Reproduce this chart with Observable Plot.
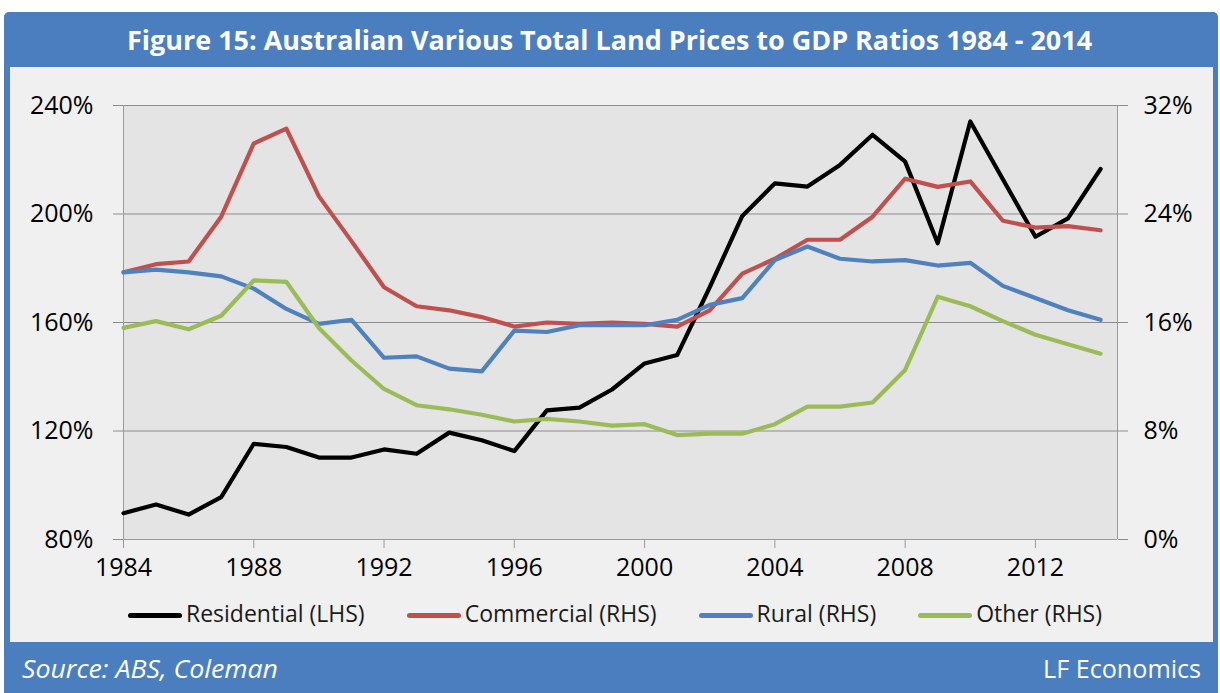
<!DOCTYPE html>
<html><head><meta charset="utf-8">
<script src="https://cdn.jsdelivr.net/npm/d3@7"></script>
<script src="https://cdn.jsdelivr.net/npm/@observablehq/plot@0.6"></script>
<style>
body{margin:0;background:#fff;}
#wrap{position:relative;width:1220px;height:693px;overflow:hidden;font-family:"Open Sans",sans-serif;}
#frame{position:absolute;left:4px;top:12px;width:1214px;height:681px;background:#4a7ebf;border-radius:5px 5px 0 0;}
#panel{position:absolute;left:10px;top:67px;width:1203px;height:575px;background:#f0f0f0;}
#title{position:absolute;left:0;top:27px;width:1220px;text-align:center;color:#fff;font-weight:700;font-size:26px;line-height:26px;white-space:nowrap;}
#title span{display:inline-block;transform-origin:center;}
#chart{position:absolute;left:0;top:67px;}
#legend{position:absolute;left:10px;width:1210px;top:602px;display:flex;justify-content:center;gap:42px;font-size:23px;line-height:23px;color:#1a1a1a;white-space:nowrap;}
#legend .item{display:flex;align-items:center;}
#legend .sw{width:54px;height:5px;border-radius:2.5px;margin-right:4px;position:relative;top:2px;}
#src{position:absolute;left:22px;top:656px;color:#fff;font-style:italic;font-size:25px;line-height:24px;white-space:nowrap;transform-origin:left center;}
#lf{position:absolute;right:19px;top:656px;color:#fff;font-size:25px;line-height:24px;white-space:nowrap;transform-origin:right center;}
</style></head>
<body>
<div id="wrap">
  <div id="frame"></div>
  <div id="panel"></div>
  <div id="title"><span>Figure 15: Australian Various Total Land Prices to GDP Ratios 1984 - 2014</span></div>
  <div id="chart"></div>
  <div id="legend"></div>
  <div id="src">Source: ABS, Coleman</div>
  <div id="lf">LF Economics</div>
</div>
<script>
const years = [1984,1985,1986,1987,1988,1989,1990,1991,1992,1993,1994,1995,1996,1997,1998,1999,2000,2001,2002,2003,2004,2005,2006,2007,2008,2009,2010,2011,2012,2013,2014];
// Residential, left axis (%)
const residential = [89.7,92.9,89.2,95.6,115.3,114.1,110.2,110.2,113.2,111.6,119.4,116.6,112.6,127.6,128.6,135.3,144.9,148.0,173.0,199.3,211.3,210.1,218.1,229.2,219.3,189.2,234.1,212.8,191.6,198.4,216.6];
// Right axis (%)
const commercial = [19.7,20.3,20.5,23.8,29.2,30.3,25.3,22.0,18.6,17.2,16.9,16.4,15.7,16.0,15.9,16.0,15.9,15.7,16.9,19.6,20.7,22.1,22.1,23.8,26.6,26.0,26.4,23.5,23.0,23.1,22.8];
const rural = [19.7,19.9,19.7,19.4,18.5,17.0,15.9,16.2,13.4,13.5,12.6,12.4,15.4,15.3,15.8,15.8,15.8,16.2,17.3,17.8,20.6,21.6,20.7,20.5,20.6,20.2,20.4,18.7,17.8,16.9,16.2];
const other = [15.6,16.1,15.5,16.5,19.1,19.0,15.6,13.2,11.1,9.9,9.6,9.2,8.7,8.9,8.7,8.4,8.5,7.7,7.8,7.8,8.5,9.8,9.8,10.1,12.5,17.9,17.2,16.1,15.1,14.4,13.7];

const leftTicks = [80,120,160,200,240];
const rightTicks = [0,8,16,24,32];
const xTicks = [1984,1988,1992,1996,2000,2004,2008,2012];

const seriesNames = ["Residential (LHS)","Commercial (RHS)","Rural (RHS)","Other (RHS)"];
const seriesColors = ["#000000","#c0504d","#4f81bd","#9bbb59"];
const seriesValues = [residential, commercial, rural, other];
const seriesAxis = ["L","R","R","R"];

// right axis maps 0..32% onto left 80..240%
const toLeft = v => 80 + v * 5;
const toRight = v => (v - 80) / 5;

const rows = [];
seriesValues.forEach((vals, s) => {
  vals.forEach((v, i) => rows.push({year: years[i], value: v, series: seriesNames[s], axis: seriesAxis[s]}));
});

const gridColor = "#8c8c8c";
const axisColor = "#9a9a9a";
const xEnd = 2014.52;

const chart = Plot.plot({
  width: 1220, height: 575,
  marginTop: 38, marginBottom: 103, marginLeft: 123, marginRight: 103,
  style: {background: "transparent", fontFamily: "'Open Sans', sans-serif", fontSize: "25px", color: "#000", overflow: "visible"},
  x: {domain: [1984, xEnd]},
  y: {domain: [80, 240]},
  marks: [
    Plot.frame({fill: "#e4e4e4", stroke: null}),
    Plot.gridY(leftTicks.filter(d => d > 80), {stroke: gridColor, strokeOpacity: 1}),
    Plot.ruleX([1984], {stroke: axisColor}),
    Plot.ruleX([xEnd], {stroke: axisColor}),
    Plot.ruleY([80], {stroke: axisColor}),
    Plot.axisY(leftTicks, {anchor: "left", tickSize: 10, tickPadding: 20, stroke: gridColor, fontSize: 25, tickFormat: d => d + "%", label: null}),
    Plot.axisY(rightTicks.map(toLeft), {anchor: "right", tickSize: 10, tickPadding: 16, stroke: gridColor, fontSize: 25, tickFormat: d => toRight(d) + "%", label: null}),
    Plot.axisX(xTicks, {anchor: "bottom", tickSize: 9, tickPadding: 10, stroke: axisColor, fontSize: 25, tickFormat: d => String(d), label: null}),
    ...seriesNames.map((name, s) => Plot.line(rows.filter(r => r.series === name), {
      x: "year",
      y: r => r.axis === "L" ? r.value : toLeft(r.value),
      stroke: seriesColors[s], strokeWidth: 4.2, strokeLinejoin: "round", strokeLinecap: "round"
    }))
  ]
});
document.getElementById("chart").appendChild(chart);

const legend = document.getElementById("legend");
seriesNames.forEach((n, i) => {
  const it = document.createElement("div");
  it.className = "item";
  const sw = document.createElement("span");
  sw.className = "sw";
  sw.style.background = seriesColors[i];
  const tx = document.createElement("span");
  tx.textContent = n;
  it.appendChild(sw); it.appendChild(tx);
  legend.appendChild(it);
});

// fit text widths to the reference
function fit(el, target) {
  const w = el.getBoundingClientRect().width;
  el.style.transform = "scaleX(" + (target / w) + ")";
}
fit(document.querySelector("#title span"), 965);
fit(document.getElementById("src"), 256);
fit(document.getElementById("lf"), 158);
</script>
</body></html>
